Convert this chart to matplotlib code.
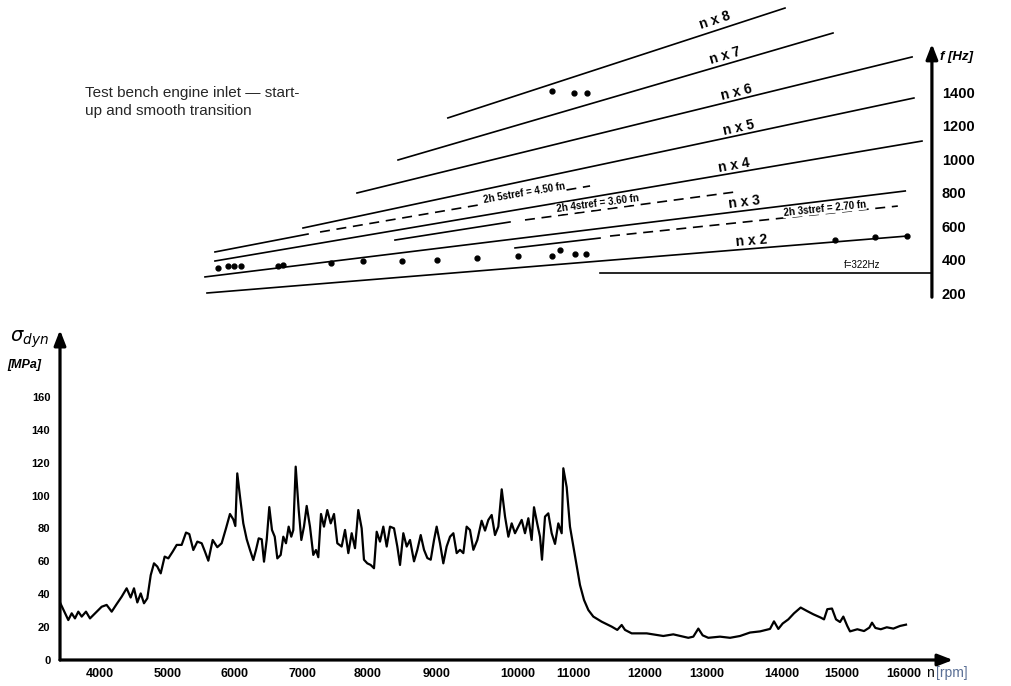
import numpy as np
import matplotlib.pyplot as plt

plt.rcParams['font.family'] = ['Liberation Sans', 'DejaVu Sans']

# ---- dynamic stress vs speed ----
rpm = [3412, 3475, 3534, 3584, 3632, 3681, 3731, 3794, 3853, 3951,
       4025, 4098, 4172, 4245, 4319, 4392, 4451, 4500, 4549, 4599,
       4647, 4696, 4746, 4794, 4843, 4893, 4951, 5005, 5070, 5130,
       5204, 5269, 5318, 5378, 5438, 5503, 5552, 5602, 5667, 5736,
       5801, 5866, 5925, 5975, 6005, 6034, 6075, 6124, 6175, 6224,
       6273, 6313, 6354, 6399, 6433, 6473, 6512, 6552, 6593, 6632,
       6682, 6721, 6761, 6801, 6840, 6870, 6906, 6951, 6990, 7030,
       7071, 7121, 7171, 7212, 7247, 7288, 7333, 7383, 7435, 7485,
       7535, 7601, 7652, 7702, 7753, 7803, 7853, 7904, 7939, 7989,
       8039, 8087, 8126, 8174, 8222, 8271, 8319, 8377, 8425, 8464,
       8512, 8561, 8609, 8667, 8715, 8764, 8812, 8860, 8909, 8957,
       8995, 9037, 9078, 9119, 9161, 9202, 9243, 9284, 9325, 9366,
       9407, 9449, 9498, 9551, 9593, 9634, 9675, 9716, 9757, 9799,
       9840, 9881, 9922, 9963, 10006, 10067, 10127, 10188, 10248, 10291,
       10351, 10400, 10436, 10491, 10551, 10612, 10673, 10733, 10794, 10824,
       10885, 10945, 11005, 11051, 11097, 11153, 11213, 11282, 11398, 11537,
       11615, 11676, 11722, 11815, 12027, 12295, 12456, 12698, 12779, 12860,
       12930, 13017, 13173, 13307, 13440, 13573, 13707, 13840, 13893, 13951,
       14011, 14105, 14200, 14311, 14411, 14522, 14645, 14700, 14755, 14833,
       14900, 14967, 15021, 15085, 15129, 15247, 15355, 15441, 15484, 15538,
       15625, 15722, 15828, 15935, 16032]
stress = [35, 29.4, 24.3, 28.4, 25.3, 29.4, 26.4, 29.4, 25.3, 29.4,
          32.4, 33.5, 29.4, 34, 38.5, 43.6, 38, 43.6, 35, 40.5,
          34.5, 37.5, 51.6, 58.8, 56.8, 52.7, 62.9, 61.8, 65.9, 70,
          70, 77.5, 76.6, 66.9, 72, 71, 65.9, 60.4, 73, 68.6,
          71, 80.1, 88.8, 85.5, 81.5, 113.5, 99.3, 83.1, 73.4, 66.9,
          60.8, 66.9, 74, 73.4, 59.8, 73, 93, 79.1, 75, 61.8,
          63.9, 75, 71, 81.1, 75, 79, 117.6, 91.2, 73, 81.1,
          93.7, 81.1, 63.9, 66.9, 62.5, 88.8, 81.1, 91.2, 83.1, 88.8,
          71, 69, 79.1, 65, 77.1, 68, 91.2, 80.1, 61, 58.8,
          57.8, 55.8, 78, 72, 81.1, 69, 81.1, 80.1, 69, 57.8,
          77.1, 69, 73, 60, 67, 76, 67, 62, 61, 73,
          81.1, 71, 58.8, 69, 75, 77.1, 65, 67, 65, 81.1,
          79.1, 67, 73, 84.7, 78.7, 85.2, 88.2, 76, 81.1, 103.8,
          87.2, 75, 83.1, 77.1, 81.1, 85.2, 77.1, 86.2, 73, 92.9,
          82.7, 75, 61, 87.2, 89.2, 77.1, 70.6, 83.1, 77.1, 116.6,
          105.1, 81.1, 69, 56.8, 45.6, 36.5, 30.4, 26.4, 23.3, 20.3,
          18.3, 21.3, 18.3, 16.2, 16.2, 14.6, 15.6, 13.5, 14.2, 19.1,
          15, 13.5, 14.2, 13.5, 14.6, 16.7, 17.4, 18.9, 23.5, 18.9,
          22.2, 24.7, 28.4, 31.9, 29.9, 27.8, 25.8, 24.7, 30.9, 31.3,
          24.7, 23.1, 26.4, 20.7, 17.4, 18.7, 17.6, 19.7, 22.7, 19.5,
          18.7, 19.9, 19.1, 20.7, 21.5]

rpm_ticks = list(range(4000, 16001, 1000))
stress_ticks = list(range(0, 161, 20))
hz_ticks = list(range(200, 1401, 200))

# ---- Campbell diagram (endpoints) ----
order_names = ['n x 2', 'n x 3', 'n x 4', 'n x 5', 'n x 6', 'n x 7', 'n x 8']
order_rpm0 = [5582, 5552, 5701, 7015, 7833, 8435, 9134]
order_hz0 = [203, 299, 394, 591, 800, 997, 1248]
order_rpm1 = [16050, 16020, 16290, 16160, 16130, 14850, 14050]
order_hz1 = [543, 812, 1110, 1367, 1612, 1755, 1904]
order_label_rpm = [13600, 13507, 13373, 13440, 13413, 13267, 13133]

mode_names = ['2h 5stref = 4.50 fn', '2h 4stref = 3.60 fn', '2h 3stref = 2.70 fn']
mode_solid_rpm = [(5701, 7091), (8391, 9901), (9963, 11375)]
mode_solid_hz = [(448, 555), (519, 627), (472, 531)]
mode_dash_rpm = [(7273, 11237), (10127, 13373), (11514, 15900)]
mode_dash_hz = [(567, 842), (639, 806), (543, 722)]
mode_label_rpm = [10127, 11347, 14717]

meas_rpm = [5746, 5896, 5985, 6090, 6642, 6716, 7439, 7924, 8493, 9000,
            9494, 10000, 10618, 10764, 11028, 11181]
meas_hz = [352, 364, 364, 364, 364, 370, 382, 394, 394, 400,
           412, 424, 424, 460, 436, 436]
upper_rpm = [10618, 11014, 11195]
upper_hz = [1409, 1397, 1397]
nx2_rpm = [14883, 15532, 16048]
nx2_hz = [519, 537, 543]

f_limit = 322
f_limit_rpm = (11375, 16450)
hz_axis_rpm = 16450

# the printed rpm axis is unevenly spaced, so map it piecewise
scale_rpm = [2000] + rpm_ticks + [18000]
scale_pos = [-36, 100, 168, 235, 302, 368, 437, 518, 573, 645, 707, 782, 842, 904, 1028]


def fwd(x):
    return np.interp(x, scale_rpm, scale_pos)


def inv(y):
    return np.interp(y, scale_pos, scale_rpm)


W, H = 1011, 686


def px_box(x0, y0, x1, y1):
    return [x0 / W, 1 - y1 / H, (x1 - x0) / W, (y1 - y0) / H]


fig = plt.figure(figsize=(W / 100, H / 100), dpi=100)
ax = fig.add_axes(px_box(60, 330, 953, 660))
ax_top = fig.add_axes(px_box(60, 0, 953, 300))

for a in (ax, ax_top):
    a.set_xscale('function', functions=(fwd, inv))
    a.set_xlim(3412, 16790)
    a.patch.set_alpha(0)
    for s in a.spines.values():
        s.set_visible(False)

# ---- bottom: stress curve ----
ax.plot(rpm, stress, color='black', lw=1.6)
ax.set_ylim(0, 200.7)
ax.set_xticks(rpm_ticks)
ax.set_yticks(stress_ticks)
ax.tick_params(length=0)
ax.tick_params(axis='x', pad=6)
ax.tick_params(axis='y', pad=7)
for lab in ax.get_xticklabels():
    lab.set_fontsize(9)
    lab.set_fontweight('bold')
for lab in ax.get_yticklabels():
    lab.set_fontsize(8)
    lab.set_fontweight('bold')

arrow = dict(arrowstyle='-|>,head_width=0.35,head_length=0.9', lw=2.3,
             color='black', shrinkA=0, shrinkB=0)
ax.annotate('', xy=(1, 0), xytext=(0, 0), xycoords='axes fraction',
            arrowprops=arrow, annotation_clip=False)
ax.annotate('', xy=(0, 1), xytext=(0, 0), xycoords='axes fraction',
            arrowprops=arrow, annotation_clip=False)

fig.text(10 / W, 1 - 339 / H, r'$\sigma_{dyn}$', fontsize=14, va='center', ha='left')
fig.text(7 / W, 1 - 365 / H, '[MPa]', fontsize=9, fontweight='bold',
         style='italic', va='center', ha='left')
fig.text(926 / W, 1 - 673 / H, 'n', fontsize=10, va='center', ha='left')
fig.text(936 / W, 1 - 673 / H, '[rpm]', fontsize=10, va='center', ha='left',
         color='#5a6f95')

# ---- top: Campbell diagram ----
ax_top.set_ylim(161.2, 1952)
ax_top.set_xticks([])
ax_top.yaxis.tick_right()
ax_top.spines['right'].set_position(('data', hz_axis_rpm))
ax_top.set_yticks(hz_ticks)
ax_top.tick_params(axis='y', length=0, pad=7)
for lab in ax_top.get_yticklabels():
    lab.set_fontsize(10.5)
    lab.set_fontweight('bold')


def angle_of(a, x0, y0, x1, y1):
    p0 = a.transData.transform((x0, y0))
    p1 = a.transData.transform((x1, y1))
    return np.degrees(np.arctan2(p1[1] - p0[1], p1[0] - p0[0]))


lw_top = 1.2
for name, r0, h0, r1, h1, lr in zip(order_names, order_rpm0, order_hz0,
                                    order_rpm1, order_hz1, order_label_rpm):
    ax_top.plot([r0, r1], [h0, h1], color='black', lw=lw_top, clip_on=False)
    lh = np.interp(lr, [r0, r1], [h0, h1])
    ang = angle_of(ax_top, r0, h0, r1, h1)
    ax_top.annotate(name, xy=(lr, lh), xytext=(0, 1.5), textcoords='offset points',
                    rotation=ang, rotation_mode='anchor', ha='center', va='bottom',
                    fontsize=10, fontweight='bold', annotation_clip=False)

for name, sr, sh, dr, dh, lr in zip(mode_names, mode_solid_rpm, mode_solid_hz,
                                    mode_dash_rpm, mode_dash_hz, mode_label_rpm):
    ax_top.plot(sr, sh, color='black', lw=lw_top)
    ax_top.plot(dr, dh, color='black', lw=lw_top, ls=(0, (6, 4)))
    lh = np.interp(lr, dr, dh)
    ang = angle_of(ax_top, dr[0], dh[0], dr[1], dh[1])
    ax_top.annotate(name, xy=(lr, lh), xytext=(0, 0.5), textcoords='offset points',
                    rotation=ang, rotation_mode='anchor', ha='center', va='bottom',
                    fontsize=7, fontweight='bold',
                    bbox=dict(boxstyle='square,pad=0.05', fc='white', ec='none'))

ax_top.plot(f_limit_rpm, [f_limit, f_limit], color='black', lw=lw_top)
ax_top.annotate('f=322Hz', xy=(15323, f_limit), xytext=(0, 2), textcoords='offset points',
                ha='center', va='bottom', fontsize=7)

dot = dict(ls='none', marker='o', ms=3.5, color='black')
ax_top.plot(meas_rpm, meas_hz, **dot)
ax_top.plot(upper_rpm, upper_hz, **dot)
ax_top.plot(nx2_rpm, nx2_hz, **dot)

ax_top.annotate('', xy=(hz_axis_rpm, 1690), xytext=(hz_axis_rpm, 178),
                arrowprops=arrow, annotation_clip=False)
ax_top.annotate('f [Hz]', xy=(hz_axis_rpm, 1612), xytext=(6, 0),
                textcoords='offset points', ha='left', va='center',
                fontsize=9.5, fontweight='bold', style='italic')

fig.text(85 / W, 1 - 86 / H, 'Test bench engine inlet \u2014 start-\nup and smooth transition',
         fontsize=11, color='#262626', va='top', ha='left', linespacing=1.4)

fig.savefig('out.png', dpi=100)
